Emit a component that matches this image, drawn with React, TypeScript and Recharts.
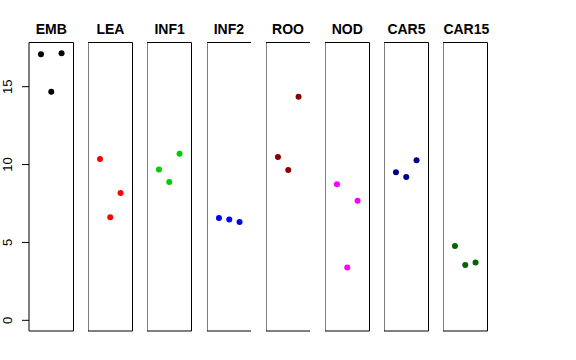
import React from 'react';
import { ScatterChart, Scatter, XAxis, YAxis, ReferenceArea } from 'recharts';

const tissues = ['EMB', 'LEA', 'INF1', 'INF2', 'ROO', 'NOD', 'CAR5', 'CAR15'];
const colors = ['#000000', '#FF0000', '#00CD00', '#0000FF', '#8B0000', '#FF00FF', '#00008B', '#006400'];
const rep1 = [17.08, 10.36, 9.69, 6.57, 10.49, 8.73, 9.5, 4.77];
const rep2 = [14.67, 6.61, 8.88, 6.48, 9.65, 3.39, 9.2, 3.55];
const rep3 = [17.15, 8.17, 10.7, 6.31, 14.36, 7.68, 10.28, 3.71];
const yTicks = [0, 5, 10, 15];

const X_DOMAIN: [number, number] = [-0.16, 4.16];
const Y_DOMAIN: [number, number] = [-0.686, 17.836];

const PANEL_LEFT = 29;
const PANEL_STEP = 59.2;
const PANEL_W = 44.5;
const AXIS_W = 29;
const FONT = '"Liberation Sans", Arial, Helvetica, sans-serif';

const YTick = (props: any) => {
  const { y, payload } = props;
  const lx = 12.5;
  return (
    <text
      x={lx}
      y={y}
      transform={`rotate(-90, ${lx}, ${y})`}
      textAnchor="middle"
      fontSize={13}
      fontFamily={FONT}
      fill="#000"
    >
      {payload.value}
    </text>
  );
};

function Panel({ idx }: { idx: number }) {
  const first = idx === 0;
  const data = [
    { x: 1, y: rep1[idx] },
    { x: 2, y: rep2[idx] },
    { x: 3, y: rep3[idx] },
  ];
  const color = colors[idx];
  const left = PANEL_LEFT + PANEL_STEP * idx - (first ? AXIS_W : 0);
  const width = PANEL_W + (first ? AXIS_W : 0);
  return (
    <div style={{ position: 'absolute', left, top: 0, width, height: 360 }}>
      <ScatterChart width={width} height={360} margin={{ top: 42.5, bottom: 29, left: 0, right: 0 }}>
        <XAxis type="number" dataKey="x" domain={X_DOMAIN} hide allowDataOverflow />
        <YAxis
          type="number"
          dataKey="y"
          domain={Y_DOMAIN}
          ticks={yTicks}
          hide={!first}
          width={AXIS_W}
          axisLine={false}
          tickLine={{ stroke: '#000' }}
          tickSize={7}
          tick={<YTick />}
          interval={0}
          allowDataOverflow
        />
        <ReferenceArea
          x1={X_DOMAIN[0]}
          x2={X_DOMAIN[1]}
          y1={Y_DOMAIN[0]}
          y2={Y_DOMAIN[1]}
          fill="none"
          fillOpacity={0}
          stroke="#000"
          strokeWidth={1}
          ifOverflow="visible"
        />
        <Scatter
          data={data}
          isAnimationActive={false}
          shape={(p: any) => <circle cx={p.cx} cy={p.cy} r={3} fill={color} />}
        />
      </ScatterChart>
      <div
        style={{
          position: 'absolute',
          left: first ? AXIS_W : 0,
          width: PANEL_W,
          top: 22.4,
          lineHeight: '14px',
          fontSize: 14,
          fontWeight: 'bold',
          fontFamily: FONT,
          textAlign: 'center',
          color: '#000',
          whiteSpace: 'nowrap',
        }}
      >
        {tissues[idx]}
      </div>
    </div>
  );
}

export default function App() {
  return (
    <div style={{ position: 'absolute', left: 0, top: 0, width: 576, height: 360, background: '#fff' }}>
      {tissues.map((_, i) => (
        <Panel key={i} idx={i} />
      ))}
    </div>
  );
}
